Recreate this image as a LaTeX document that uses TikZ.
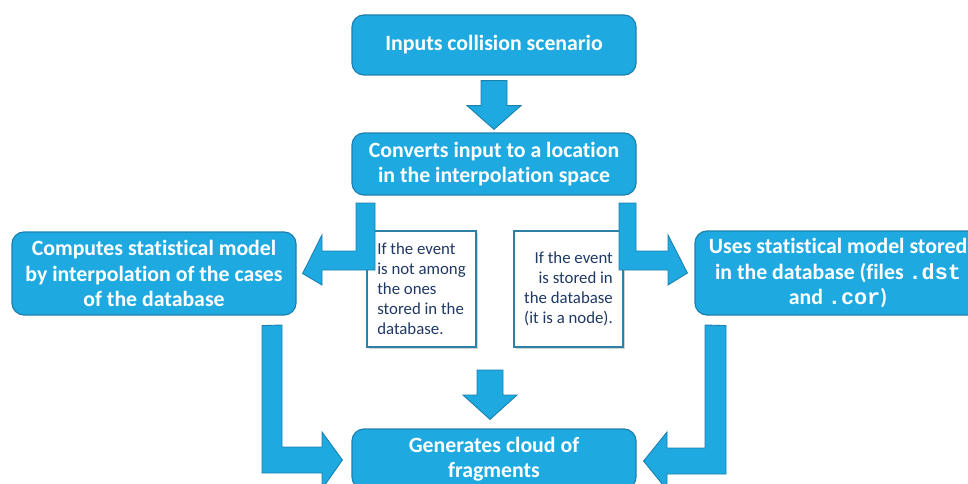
\documentclass[tikz,border=0pt]{standalone}
\usepackage{fontspec}
\setmainfont{Carlito}[Ligatures=NoCommon]
\newfontfamily\monof{Liberation Mono}
\usetikzlibrary{shadows,calc}
\definecolor{boxfill}{HTML}{1EAAE1}
\definecolor{boxline}{HTML}{1B80AE}
\definecolor{noteline}{HTML}{2F7FA6}
\definecolor{notetext}{HTML}{1F3864}
\begin{document}
\begin{tikzpicture}[x=1pt,y=-1pt,
  mainbox/.style={draw=boxline,line width=1.2pt,fill=boxfill,rounded corners=12pt,
    text=white,font=\fontsize{21.8}{25.5}\selectfont\bfseries,align=center,inner sep=0pt},
  notebox/.style={draw=noteline,line width=1.3pt,fill=white,text=notetext,
    font=\fontsize{16.8}{20}\selectfont,inner sep=0pt,minimum width=109pt,minimum height=116pt,
    drop shadow={shadow xshift=2pt,shadow yshift=-2pt,opacity=0.35}},
  blockarrow/.style={draw=boxline,line width=0.9pt,fill=boxfill,line join=miter}]
\useasboundingbox (0,0) rectangle (968,484);
% main boxes
\node[mainbox,minimum width=284pt,minimum height=60pt] (inp) at (494,45) {Inputs collision scenario};
\node[mainbox,minimum width=284pt,minimum height=62pt] (conv) at (494,164) {Converts input to a location\\in the interpolation space};
\node[mainbox,minimum width=284pt,minimum height=83pt] (comp) at (154,273.5) {Computes statistical model\\by interpolation of the cases\\of the database};
\node[mainbox,minimum width=286pt,minimum height=84pt] (uses) at (838,273) {Uses statistical model stored\\in the database (files {\monof .dst}\\and {\monof .cor})};
\node[mainbox,minimum width=284pt,minimum height=60pt] (gen) at (494,459) {Generates cloud of\\fragments};
% note boxes
\node[notebox,align=left] (notin) at (421.5,289) {If the event\\is not among\\the ones\\stored in the\\database.};
\node[notebox,align=right] (isin) at (568.5,289) {If the event\\is stored in\\the database\\(it is a node).};
% top down arrow
\draw[blockarrow] ($(inp.south)+(-13,5)$) -- ++(26,0) -- ++(0,25) -- ++(14,0)
  -- ($(conv.north)+(0,-3)$) -- ($(inp.south)+(-27,30)$) -- ++(14,0) -- cycle;
% left bent arrow (to comp)
\coordinate (lb0) at (356,203);
\draw[blockarrow] (lb0) -- (375,203) -- (375,270) -- (322,270) -- (322,285)
  -- ($(comp.east)+(6,0)$) -- (322,235) -- (322,251) -- (356,251) -- cycle;
% right bent arrow (to uses)
\coordinate (rb0) at (619,203);
\draw[blockarrow] (rb0) -- (636,203) -- (636,251) -- (668,251) -- (668,235)
  -- ($(uses.west)+(-7,0)$) -- (668,285) -- (668,270) -- (619,270) -- cycle;
% middle down arrow
\coordinate (md0) at (477,370);
\draw[blockarrow] (md0) -- (503,370) -- (503,395) -- (517,395) -- ($(gen.north)+(-4,-9)$)
  -- (463,395) -- (477,395) -- cycle;
% left L arrow (comp -> gen)
\draw[blockarrow] ($(comp.south)+(108,10)$) -- (262,473) -- (322,473) -- (322,489)
  -- ($(gen.west)+(-9,1)$) -- (322,432) -- (322,447) -- (282,447) -- (282,325) -- cycle;
% right L arrow (uses -> gen)
\draw[blockarrow] ($(uses.south)+(-112,10)$) -- (726,474) -- (667,474) -- (667,490)
  -- ($(gen.east)+(7,2)$) -- (667,432) -- (667,448) -- (705,448) -- (705,325) -- cycle;
\end{tikzpicture}
\end{document}
